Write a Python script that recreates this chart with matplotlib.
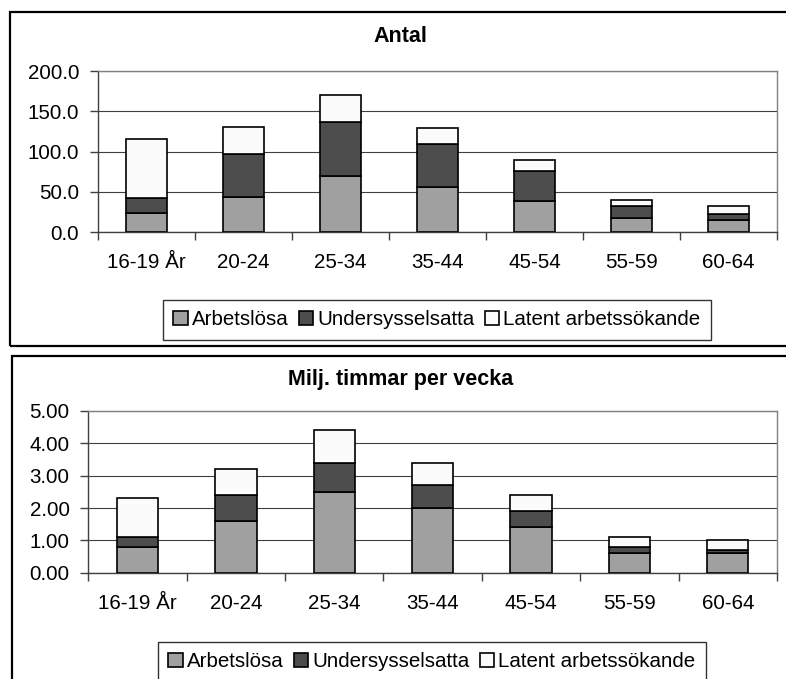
import numpy as np
import matplotlib.pyplot as plt
from matplotlib.patches import Rectangle
from matplotlib.ticker import FormatStrFormatter

plt.rcParams['font.family'] = ['Liberation Sans', 'DejaVu Sans']

age_groups = ['16-19 År', '20-24', '25-34', '35-44', '45-54', '55-59', '60-64']
series_names = ['Arbetslösa', 'Undersysselsatta', 'Latent arbetssökande']
colors = ['#a0a0a0', '#4d4d4d', '#fbfbfb']

# antal personer (tusental)
antal_arbetslosa = [24, 44, 70, 56, 38, 18, 15]
antal_undersyss = [18, 53, 67, 53, 38, 14, 8]
antal_latent = [73, 33, 33, 20, 14, 8, 9]

# miljoner timmar per vecka
timmar_arbetslosa = [0.8, 1.6, 2.5, 2.0, 1.4, 0.6, 0.6]
timmar_undersyss = [0.3, 0.8, 0.9, 0.7, 0.5, 0.2, 0.1]
timmar_latent = [1.2, 0.8, 1.0, 0.7, 0.5, 0.3, 0.3]

FS = 14.8


def draw_panel(ax, stacks, ymax, step, fmt):
    x = np.arange(len(age_groups))
    bottom = np.zeros(len(age_groups))
    for vals, color, name in zip(stacks, colors, series_names):
        ax.bar(x, vals, width=0.42, bottom=bottom, color=color,
               edgecolor='black', linewidth=1.2, label=name, zorder=3)
        bottom += np.array(vals)

    ax.set_xlim(-0.5, len(age_groups) - 0.5)
    ax.set_ylim(0, ymax)
    ax.set_yticks(np.arange(0, ymax + step / 2, step))
    ax.yaxis.set_major_formatter(FormatStrFormatter(fmt))
    ax.grid(axis='y', color='#404040', linewidth=0.8, zorder=0)
    ax.set_axisbelow(True)

    # ticks between categories, labels centred under the bars
    ax.set_xticks(np.arange(len(age_groups) + 1) - 0.5)
    ax.set_xticklabels([])
    ax.set_xticks(x, minor=True)
    ax.set_xticklabels(age_groups, minor=True, fontsize=FS)
    ax.tick_params(axis='x', which='major', length=6, width=1, color='#404040', direction='out')
    ax.tick_params(axis='x', which='minor', length=0, pad=15)
    ax.tick_params(axis='y', length=6, width=1, color='#404040', pad=7.5, labelsize=FS)

    for side in ['top', 'right']:
        ax.spines[side].set_color('#808080')
        ax.spines[side].set_linewidth(1)
    for side in ['left', 'bottom']:
        ax.spines[side].set_color('#404040')
        ax.spines[side].set_linewidth(1)


fig = plt.figure(figsize=(7.86, 6.79), dpi=100)

ax1 = fig.add_axes([0.1247, 0.6583, 0.8639, 0.2371])
draw_panel(ax1, [antal_arbetslosa, antal_undersyss, antal_latent], 200, 50, '%.1f')

ax2 = fig.add_axes([0.1123, 0.1566, 0.8762, 0.2381])
draw_panel(ax2, [timmar_arbetslosa, timmar_undersyss, timmar_latent], 5, 1, '%.2f')

fig.text(0.510, 1 - 36.5 / 679, 'Antal', ha='center', va='center',
         fontsize=15.5, fontweight='bold')
fig.text(0.510, 1 - 379 / 679, 'Milj. timmar per vecka', ha='center', va='center',
         fontsize=15.5, fontweight='bold')

for ax, top_y, cx in [(ax1, 300, 437), (ax2, 641.7, 432)]:
    leg = ax.legend(loc='upper center', bbox_to_anchor=(cx / 786, 1 - top_y / 679),
                    bbox_transform=fig.transFigure, ncol=3, frameon=True,
                    fancybox=False, shadow=False, fontsize=FS, borderpad=0.5,
                    handlelength=0.7, handleheight=0.7, handletextpad=0.2,
                    columnspacing=0.5, borderaxespad=0)
    leg.get_frame().set_edgecolor('black')
    leg.get_frame().set_linewidth(1)

# chart frames
fig.add_artist(Rectangle((10 / 786, 1 - 345.5 / 679), 1.0, 333.5 / 679,
                         transform=fig.transFigure, fill=False,
                         edgecolor='black', linewidth=1.6))
fig.add_artist(Rectangle((12 / 786, -0.1), 1.0, 0.1 + 1 - 356 / 679,
                         transform=fig.transFigure, fill=False,
                         edgecolor='black', linewidth=1.6))

fig.savefig('out.png', dpi=100, facecolor='white')
